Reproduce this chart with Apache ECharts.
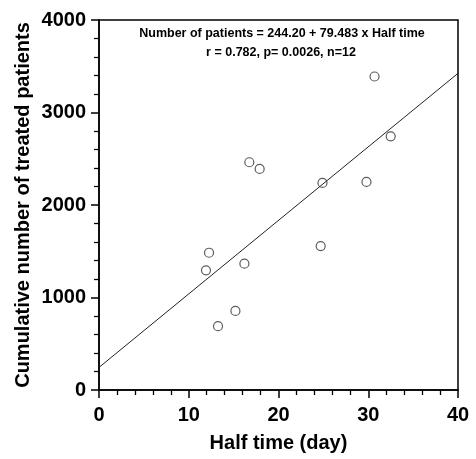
<!DOCTYPE html>
<html><head><meta charset="utf-8">
<script src="https://cdn.jsdelivr.net/npm/echarts@6/dist/echarts.min.js"></script>
<style>html,body{margin:0;padding:0;background:#fff}#c{width:476px;height:459px}</style>
</head><body><div id="c"></div>
<script>
var halfTime = [30.7, 32.5, 16.75, 17.9, 24.9, 29.8, 24.7, 12.26, 11.92, 16.2, 15.2, 13.26];
var patients = [3389, 2742, 2462, 2390, 2239, 2250, 1556, 1484, 1294, 1366, 855, 690];
var intercept = 244.20;
var slope = 79.483;
var xRange = [0, 40];
var yRange = [0, 4000];
var eqText = 'Number of patients = 244.20 + 79.483 x Half time';
var statText = 'r = 0.782, p= 0.0026, n=12';

var pts = halfTime.map(function(x,i){return [x, patients[i]];});
var fit = xRange.map(function(x){return [x, intercept + slope*x];});
var font = '"Liberation Sans", Arial, sans-serif';
var chart = echarts.init(document.getElementById('c'));
chart.setOption({
  animation:false,
  grid:{left:99,right:18,top:20,bottom:69,show:true,borderColor:'#000',borderWidth:1.5,backgroundColor:'transparent'},
  xAxis:{type:'value',min:xRange[0],max:xRange[1],interval:10,
    name:'Half time (day)',nameLocation:'middle',nameGap:43,nameMoveOverlap:false,
    nameTextStyle:{fontFamily:font,fontWeight:'bold',fontSize:20,color:'#000'},
    axisLine:{lineStyle:{color:'#000',width:1.5}},
    axisTick:{length:8,lineStyle:{color:'#000',width:1.5}},
    minorTick:{show:true,splitNumber:5,length:5,lineStyle:{color:'#000',width:1.3}},
    splitLine:{show:false},
    axisLabel:{fontFamily:font,fontWeight:'bold',fontSize:20,color:'#000',margin:15}},
  yAxis:{type:'value',min:yRange[0],max:yRange[1],interval:1000,
    name:'Cumulative number of treated patients',nameLocation:'middle',nameGap:66,nameMoveOverlap:false,
    nameTextStyle:{fontFamily:font,fontWeight:'bold',fontSize:20,color:'#000'},
    axisLine:{show:true,lineStyle:{color:'#000',width:1.5}},
    axisTick:{show:true,length:8,lineStyle:{color:'#000',width:1.5}},
    minorTick:{show:true,splitNumber:5,length:5,lineStyle:{color:'#000',width:1.3}},
    splitLine:{show:false},
    axisLabel:{fontFamily:font,fontWeight:'bold',fontSize:20,color:'#000',margin:13,
      formatter:function(v){return String(v);}}},
  graphic:[
    {type:'text',x:282,y:34,style:{text:eqText,font:'bold 12.5px '+font,fill:'#000',align:'center',verticalAlign:'middle'}},
    {type:'text',x:281,y:53,style:{text:statText,font:'bold 12.5px '+font,fill:'#000',align:'center',verticalAlign:'middle'}}
  ],
  series:[
    {type:'line',data:fit,symbol:'none',lineStyle:{color:'#222',width:1},silent:true},
    {type:'scatter',data:pts,symbol:'circle',symbolSize:9,
      itemStyle:{color:'#fff',borderColor:'#333',borderWidth:1.2}}
  ]
});
</script></body></html>
